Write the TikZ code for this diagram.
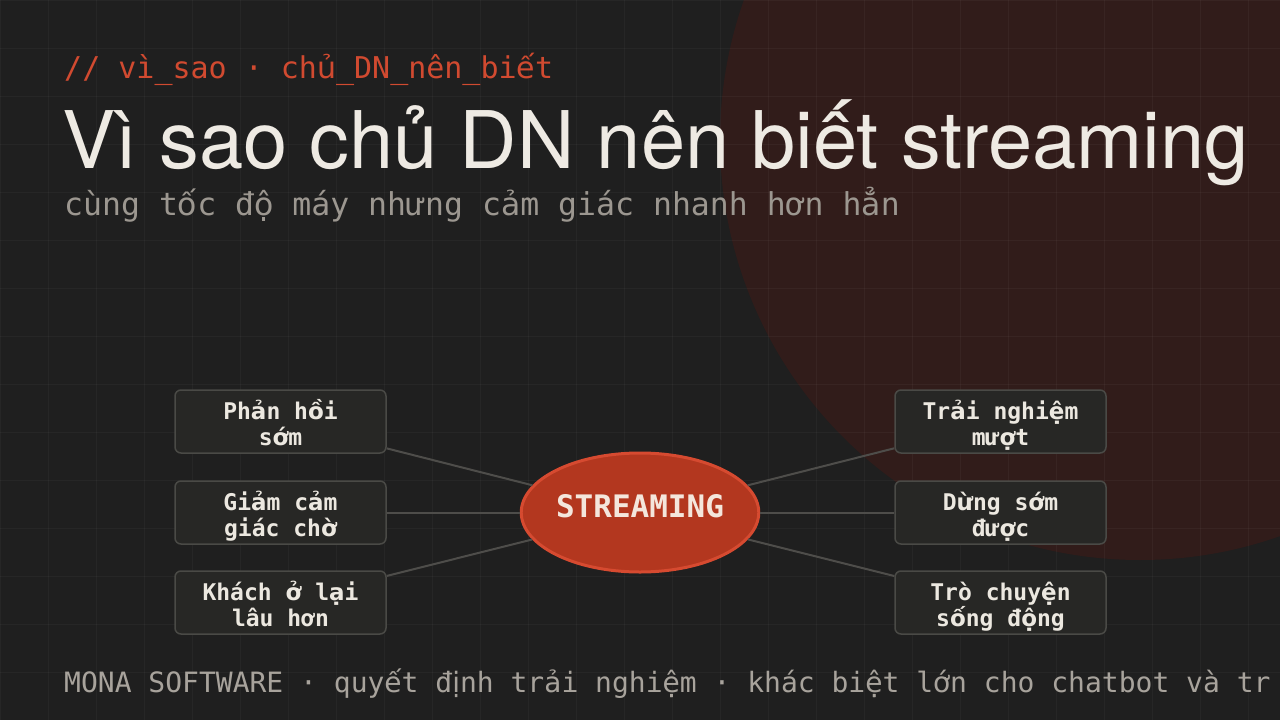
\documentclass[tikz,border=0pt]{standalone}
\usepackage{fontspec}
\setmainfont{TeX Gyre Heros}
\newfontfamily\monof{DejaVu Sans Mono}
\newfontfamily\vnfb{DejaVu Sans}
\newfontfamily\titlef{TeX Gyre Heros}
\makeatletter
\count@="1EA0
\loop\XeTeXcharclass\count@=7\relax\ifnum\count@<"1EF9\relax\advance\count@ by 1\relax\repeat
\makeatother
\XeTeXinterchartoks 0 7 = {\vnfb}
\XeTeXinterchartoks 4095 7 = {\vnfb}
\XeTeXinterchartoks 7 0 = {\monof}
\XeTeXinterchartoks 7 4095 = {\monof}
\newcommand\monotext{\monof\XeTeXinterchartokenstate=1\relax}
\definecolor{bgc}{HTML}{1F1F1F}
\definecolor{maroonc}{HTML}{311C1A}
\definecolor{accentc}{HTML}{D14A30}
\definecolor{titlec}{HTML}{EEEAE3}
\definecolor{subc}{HTML}{9C9790}
\definecolor{footc}{HTML}{A8A39C}
\definecolor{boxfill}{HTML}{272725}
\definecolor{boxline}{HTML}{4A4A46}
\definecolor{boxtext}{HTML}{ECE8E0}
\definecolor{linkc}{HTML}{4E4D4A}
\definecolor{ellfill}{HTML}{B3371F}
\definecolor{elldraw}{HTML}{D64A30}
\definecolor{elltext}{HTML}{F4E6DC}
\newcommand\twolines[2]{\smash{#1}\rule[-2pt]{0pt}{26pt}\\\smash{#2}\rule[-2pt]{0pt}{26pt}}
\tikzset{
  reason/.style={draw=boxline, line width=1.5pt, fill=boxfill, rounded corners=6pt,
    minimum width=211pt, minimum height=63pt, inner sep=0pt, align=center,
    text=boxtext, font=\monotext\bfseries\fontsize{23}{26}\selectfont},
  hub/.style={ellipse, draw=elldraw, line width=3pt, fill=ellfill,
    minimum width=236pt, minimum height=119pt, inner sep=0pt,
    text=elltext, font=\monotext\bfseries\fontsize{31}{36}\selectfont,
    text height=23pt, text depth=14pt},
  link/.style={draw=linkc, line width=2pt},
  plain/.style={anchor=base west, inner sep=0pt}
}
\usetikzlibrary{shapes.geometric}
\begin{document}
\begin{tikzpicture}[x=1pt,y=-1pt]
\useasboundingbox (0,0) rectangle (1280,720);
\begin{scope}
\clip (0,0) rectangle (1280,720);
\fill[bgc] (0,0) rectangle (1280,720);
\fill[maroonc] (1140,140) circle[radius=420pt];
\foreach \gx in {0,48,...,1280} \draw[white, opacity=0.035, line width=1pt] (\gx,0) -- (\gx,720);
\foreach \gy in {0,48,...,720} \draw[white, opacity=0.035, line width=1pt] (0,\gy) -- (1280,\gy);
\end{scope}
\node[plain, text=accentc, font=\monotext\fontsize{30}{36}\selectfont] (hdr) at (64,78) {// vì\_sao · chủ\_DN\_nên\_biết};
\node[plain, text=titlec, font=\titlef\fontsize{79.5}{90}\selectfont] (title) at (62,168) {Vì sao chủ DN nên biết streaming};
\node[plain, text=subc, font=\monotext\fontsize{31.5}{36}\selectfont] (sub) at (64,215) {cùng tốc độ máy nhưng cảm giác nhanh hơn hẳn};
\node[plain, text=footc, font=\monotext\fontsize{28}{34}\selectfont] (foot) at (64,692) {MONA SOFTWARE · quyết định trải nghiệm · khác biệt lớn cho chatbot và tr};

\node[hub] (s) at (640,512.5) {STREAMING};
\node[reason] (l1) at (280.5,421.5) {\twolines{Phản hồi}{sớm}};
\node[reason] (l2) at (280.5,512.5) {\twolines{Giảm cảm}{giác chờ}};
\node[reason] (l3) at (280.5,602.5) {\twolines{Khách ở lại}{lâu hơn}};
\node[reason] (r1) at (1000.5,421.5) {\twolines{Trải nghiệm}{mượt}};
\node[reason] (r2) at (1000.5,512.5) {\twolines{Dừng sớm}{được}};
\node[reason] (r3) at (1000.5,602.5) {\twolines{Trò chuyện}{sống động}};
\foreach \n in {l1,l2,l3,r1,r2,r3} \draw[link] (\n) -- (s);
\end{tikzpicture}
\end{document}
